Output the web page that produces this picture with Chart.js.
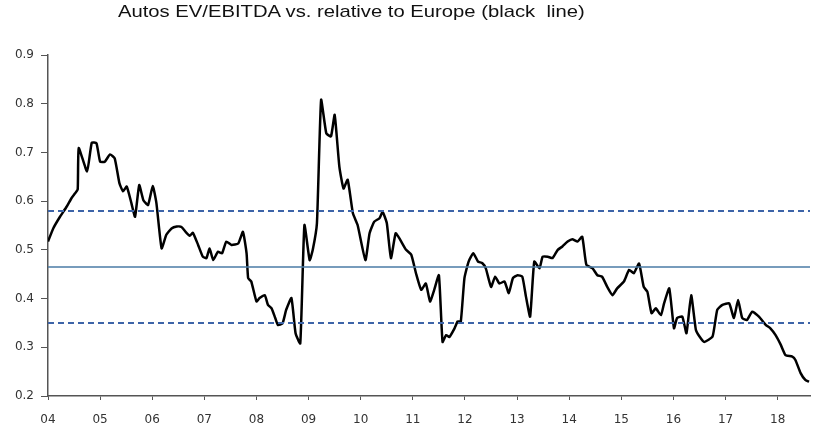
<!DOCTYPE html>
<html>
<head>
<meta charset="utf-8">
<script src="https://cdn.jsdelivr.net/npm/chart.js@4/dist/chart.umd.min.js"></script>
<style>
  html, body { margin: 0; padding: 0; background: #fff; }
  #wrap { position: relative; width: 813px; height: 427px; }
  #title { position: absolute; left: 118px; top: 2px; font: 17px "Liberation Sans", Arial, sans-serif; color: #111;
           transform: scaleX(1.19); transform-origin: left top; white-space: nowrap; }
</style>
</head>
<body>
<div id="wrap">
  <div id="title">Autos EV/EBITDA vs. relative to Europe (black&nbsp; line)</div>
  <canvas id="evChart" width="813" height="427"></canvas>
</div>
<script>
// time in years since 2000 (04 = 2004)
const years = [4.0,4.1,4.23,4.36,4.45,4.52,4.57,4.59,4.75,4.84,4.93,5.0,5.09,5.19,5.28,5.37,5.44,5.51,5.6,5.67,5.75,5.83,5.92,6.01,6.08,6.18,6.27,6.37,6.47,6.56,6.64,6.72,6.78,6.88,6.97,7.04,7.1,7.17,7.26,7.34,7.42,7.52,7.65,7.74,7.81,7.84,7.9,8.0,8.06,8.16,8.22,8.29,8.36,8.41,8.5,8.57,8.67,8.75,8.84,8.92,9.02,9.08,9.16,9.24,9.34,9.43,9.5,9.59,9.67,9.75,9.85,9.94,10.09,10.17,10.26,10.36,10.42,10.5,10.58,10.67,10.74,10.87,10.97,11.06,11.16,11.25,11.33,11.41,11.5,11.57,11.64,11.7,11.8,11.86,11.92,11.99,12.07,12.16,12.25,12.33,12.4,12.5,12.58,12.66,12.76,12.84,12.92,13.01,13.1,13.17,13.25,13.33,13.43,13.49,13.59,13.68,13.78,13.87,13.97,14.06,14.16,14.25,14.33,14.45,14.54,14.63,14.73,14.83,14.92,15.05,15.15,15.24,15.34,15.43,15.5,15.58,15.66,15.76,15.82,15.92,16.01,16.07,16.17,16.25,16.34,16.43,16.5,16.59,16.75,16.84,16.94,17.07,17.16,17.24,17.32,17.41,17.51,17.64,17.77,17.86,17.96,18.06,18.15,18.28,18.34,18.44,18.53,18.6];
const relValues = [0.517,0.544,0.568,0.589,0.606,0.616,0.624,0.709,0.661,0.72,0.719,0.681,0.681,0.696,0.688,0.637,0.62,0.63,0.596,0.568,0.633,0.602,0.592,0.631,0.596,0.503,0.531,0.544,0.548,0.547,0.537,0.529,0.535,0.51,0.486,0.483,0.503,0.479,0.496,0.493,0.517,0.51,0.513,0.537,0.493,0.442,0.435,0.394,0.401,0.407,0.387,0.38,0.36,0.346,0.349,0.377,0.401,0.329,0.308,0.551,0.479,0.5,0.555,0.808,0.739,0.733,0.777,0.671,0.626,0.644,0.575,0.551,0.479,0.534,0.558,0.565,0.578,0.555,0.483,0.534,0.524,0.5,0.49,0.452,0.418,0.431,0.394,0.418,0.448,0.311,0.325,0.321,0.339,0.353,0.353,0.442,0.476,0.493,0.476,0.473,0.462,0.424,0.445,0.431,0.435,0.411,0.442,0.448,0.445,0.404,0.363,0.476,0.462,0.486,0.486,0.483,0.5,0.507,0.517,0.522,0.517,0.527,0.469,0.462,0.448,0.445,0.424,0.407,0.421,0.435,0.459,0.452,0.472,0.424,0.414,0.37,0.38,0.366,0.39,0.421,0.339,0.36,0.363,0.329,0.407,0.336,0.322,0.311,0.322,0.377,0.387,0.39,0.36,0.397,0.36,0.356,0.373,0.363,0.346,0.339,0.325,0.305,0.284,0.281,0.274,0.247,0.233,0.229];

const xTickYears = [4,5,6,7,8,9,10,11,12,13,14,15,16,17,18];
const meanLevel = 0.465;
const upperBand = 0.58;
const lowerBand = 0.35;
const xStart = 4, xEnd = 18.62;

let pts = years.map((y, i) => ({x: y, y: relValues[i]}));
const flat = v => [{x: xStart, y: v}, {x: xEnd, y: v}];

new Chart("evChart", {
  type: "line",
  data: {
    datasets: [
      { data: flat(upperBand), borderColor: "#3d64a8", borderWidth: 2, borderDash: [6, 4], pointRadius: 0 },
      { data: flat(lowerBand), borderColor: "#3d64a8", borderWidth: 2, borderDash: [6, 4], pointRadius: 0 },
      { data: flat(meanLevel), borderColor: "#4a7ba6", borderWidth: 1.5, pointRadius: 0 },
      { data: pts, borderColor: "#000000", borderWidth: 2.5, pointRadius: 0, tension: 0.15 }
    ]
  },
  options: {
    responsive: false,
    animation: false,
    layout: { padding: { top: 55, right: 3, left: 0, bottom: 0 } },
    plugins: { legend: { display: false }, tooltip: { enabled: false } },
    scales: {
      x: {
        type: "linear", min: xStart, max: xEnd,
        afterBuildTicks: s => { s.ticks = xTickYears.map(v => ({ value: v })); },
        afterFit: s => { s.height = 31; },
        ticks: { autoSkip: false, maxRotation: 0, padding: 13, color: "#333", font: { family: "DejaVu Sans", size: 12 },
          callback: v => String(Math.round(v)).padStart(2, "0") },
        grid: { drawOnChartArea: false, tickLength: 4, color: "#555" },
        border: { color: "#555", width: 1.5 }
      },
      y: {
        min: 0.2, max: 0.9,
        afterFit: s => { s.width = 48; },
        ticks: { stepSize: 0.1, padding: 7, color: "#333", font: { family: "DejaVu Sans", size: 12 }, callback: v => v.toFixed(1) },
        grid: { drawOnChartArea: false, tickLength: 7, color: "#555" },
        border: { color: "#555", width: 1.5 }
      }
    }
  }
});
</script>
</body>
</html>
